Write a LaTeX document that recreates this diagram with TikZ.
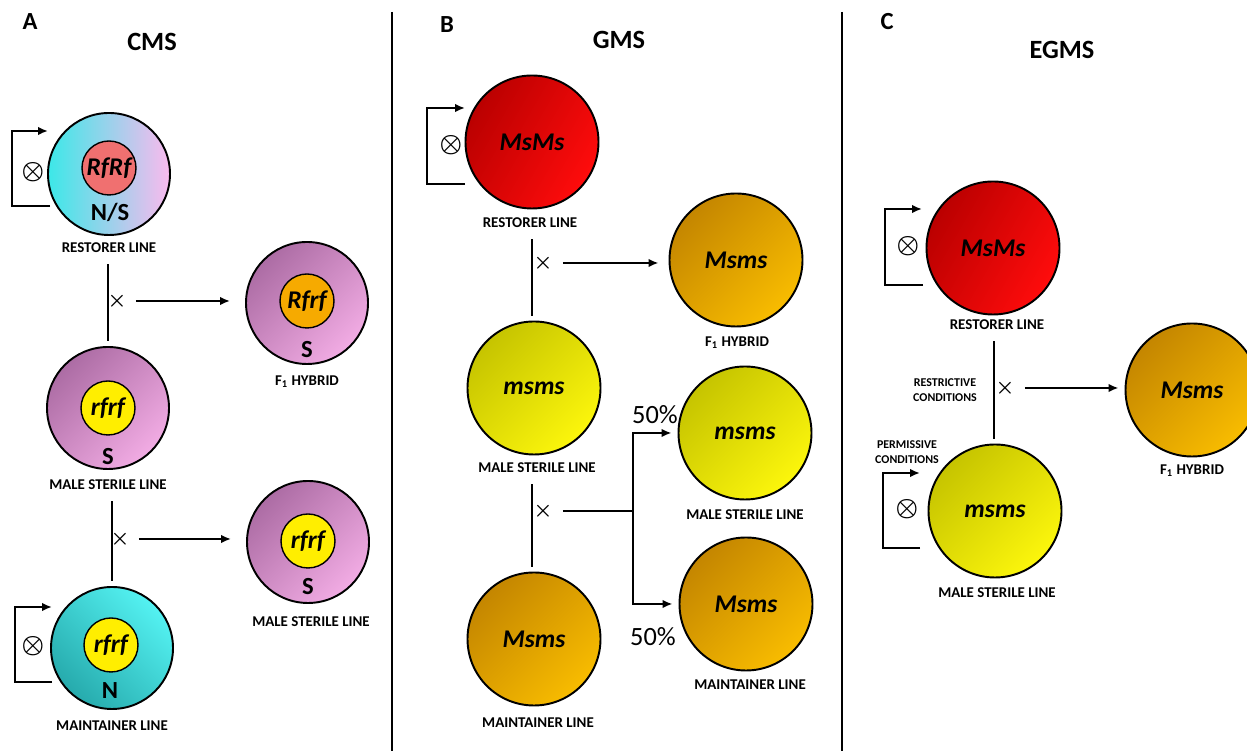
\documentclass[tikz,border=0pt]{standalone}
\usepackage{fontspec}
\setmainfont{Carlito}
\usetikzlibrary{arrows.meta}

\definecolor{cyanA}{RGB}{60,232,232}
\definecolor{pinkA}{RGB}{250,186,238}
\definecolor{mauveD}{RGB}{172,108,164}
\definecolor{mauveL}{RGB}{242,172,228}
\definecolor{tealD}{RGB}{38,170,172}
\definecolor{tealL}{RGB}{84,242,242}
\definecolor{salmonC}{RGB}{240,112,112}
\definecolor{orangeC}{RGB}{246,170,0}
\definecolor{yellowC}{RGB}{255,238,0}
\definecolor{redD}{RGB}{186,0,0}
\definecolor{redL}{RGB}{255,12,12}
\definecolor{ochreD}{RGB}{196,134,0}
\definecolor{ochreL}{RGB}{248,188,0}
\definecolor{limeD}{RGB}{198,196,0}
\definecolor{limeL}{RGB}{252,246,12}

\tikzset{
	cellA/.style={circle, draw, line width=1.1pt, minimum size=2.44cm, inner sep=0pt},
	coreA/.style={circle, draw, line width=0.8pt, minimum size=1.08cm, inner sep=0pt,
		font=\bfseries\itshape\fontsize{14.5}{15}\selectfont},
	cellB/.style={circle, draw, line width=1.1pt, minimum size=2.66cm, inner sep=0pt,
		font=\bfseries\itshape\fontsize{14.5}{15}\selectfont},
	cyto/.style={font=\bfseries\fontsize{14}{14}\selectfont},
	linename/.style={font=\bfseries\fontsize{8.5}{9}\selectfont},
	condname/.style={font=\bfseries\fontsize{6.8}{8.4}\selectfont, align=center},
	panel/.style={font=\bfseries\fontsize{14}{14}\selectfont},
	heading/.style={font=\bfseries\fontsize{15}{15}\selectfont},
	crossmark/.style={inner sep=0pt, font=\boldmath\fontsize{13}{13}\selectfont},
	selfmark/.style={inner sep=0pt, font=\boldmath\fontsize{13.5}{14}\selectfont},
	half/.style={font=\fontsize{15}{15}\selectfont},
	crossline/.style={line width=1.1pt, shorten <=0.1cm, shorten >=0.1cm},
	toarrow/.style={line width=1.1pt, -{Latex[length=2mm,width=1.7mm]}},
	selfloop/.style={line width=1.1pt, -{Latex[length=2mm,width=1.7mm]}}
}

\begin{document}
\begin{tikzpicture}
	\useasboundingbox (0,0) rectangle (24.94,15.02);
	\clip (0,0) rectangle (24.94,15.02);
	% Trennlinien
	\draw[
		line width=1.1pt
	] (7.84,14.78) -- (7.84,0);
	\draw[
		line width=1.1pt
	] (16.84,14.78) -- (16.84,0);
	% Ueberschriften
	\node[panel] (tagA) at (0.6,14.58) {A};
	\node[heading] (headA) at (3.04,14.18) {CMS};
	\node[panel] (tagB) at (8.94,14.52) {B};
	\node[heading] (headB) at (12.38,14.22) {GMS};
	\node[panel] (tagC) at (17.74,14.58) {C};
	\node[heading] (headC) at (21.24,14.02) {EGMS};

	% A: Restorer
	\node[
		cellA,
		left color=cyanA,
		right color=pinkA
	] (restA) at (2.18,11.54) {};
	\node[coreA, fill=salmonC] (restAcore) at (2.18,11.66) {RfRf};
	\node[cyto] (restAcyto) at (2.2,10.78) {N/S};
	\node[linename] (restAname) at (2.18,10.06) {RESTORER LINE};
	\draw[selfloop] (restA.center) ++(-1.18,-0.64) -- ++(-0.76,0) -- ++(0,1.5) -- ++(0.72,0);
	\node[selfmark] (restAself) at (0.66,11.58) {$\otimes$};
	% A: F1
	\node[
		cellA,
		top color=mauveD,
		bottom color=mauveL,
		shading angle=45
	] (hybA) at (6.14,8.96) {};
	\node[coreA, fill=orangeC] (hybAcore) at (6.14,9.0) {Rfrf};
	\node[cyto] (hybAcyto) at (6.14,8.02) {S};
	\node[linename] (hybAname) at (6.14,7.38) {F\textsubscript{1} HYBRID};
	% A: male sterile
	\node[
		cellA,
		top color=mauveD,
		bottom color=mauveL,
		shading angle=45
	] (msA) at (2.16,6.86) {};
	\node[coreA, fill=yellowC] (msAcore) at (2.16,6.86) {rfrf};
	\node[cyto] (msAcyto) at (2.16,5.88) {S};
	\node[linename] (msAname) at (2.16,5.32) {MALE STERILE LINE};
	% A: male sterile (Nachkommen)
	\node[
		cellA,
		top color=mauveD,
		bottom color=mauveL,
		shading angle=45
	] (msA2) at (6.16,4.18) {};
	\node[coreA, fill=yellowC] (msA2core) at (6.16,4.2) {rfrf};
	\node[cyto] (msA2cyto) at (6.16,3.28) {S};
	\node[linename] (msA2name) at (6.22,2.58) {MALE STERILE LINE};
	% A: maintainer
	\node[
		cellA,
		top color=tealL,
		bottom color=tealD,
		shading angle=-45
	] (mainA) at (2.24,2.06) {};
	\node[coreA, fill=yellowC] (mainAcore) at (2.22,2.12) {rfrf};
	\node[cyto] (mainAcyto) at (2.2,1.2) {N};
	\node[linename] (mainAname) at (2.24,0.5) {MAINTAINER LINE};
	\draw[selfloop] (mainA.center) ++(-1.2,-0.68) -- ++(-0.74,0) -- ++(0,1.5) -- ++(0.74,0);
	\node[selfmark] (mainAself) at (0.66,2.1) {$\otimes$};
	% A: Kreuzungen
	\draw[crossline] (msA.north |- restAname.south) -- (msA.north);
	\node[crossmark] (crossA1) at (2.34,9.0) {$\times$};
	\draw[toarrow, shorten <=0.18cm, shorten >=0.3cm] (crossA1.east) -- (crossA1.east -| hybA.west);
	\draw[crossline] (mainA.north |- msAname.south) -- (mainA.north);
	\node[crossmark] (crossA2) at (2.4,4.24) {$\times$};
	\draw[toarrow, shorten <=0.18cm, shorten >=0.3cm] (crossA2.east) -- (crossA2.east -| msA2.west);

	% B: Restorer
	\node[
		cellB,
		top color=redD,
		bottom color=redL,
		shading angle=60
	] (restB) at (10.64,12.18) {MsMs};
	\node[linename] (restBname) at (10.6,10.56) {RESTORER LINE};
	\draw[selfloop] (restB.center) ++(-1.34,-0.84) -- ++(-0.76,0) -- ++(0,1.52) -- ++(0.76,0);
	\node[selfmark] (restBself) at (9.02,12.12) {$\otimes$};
	% B: F1
	\node[
		cellB,
		top color=ochreD,
		bottom color=ochreL,
		shading angle=45
	] (hybB) at (14.72,9.82) {Msms};
	\node[linename] (hybBname) at (14.74,8.16) {F\textsubscript{1} HYBRID};
	% B: male sterile
	\node[
		cellB,
		top color=limeD,
		bottom color=limeL,
		shading angle=45
	] (msB) at (10.68,7.26) {msms};
	\node[linename] (msBname) at (10.74,5.66) {MALE STERILE LINE};
	% B: maintainer
	\node[
		cellB,
		top color=ochreD,
		bottom color=ochreL,
		shading angle=45
	] (mainB) at (10.68,2.24) {Msms};
	\node[linename] (mainBname) at (10.76,0.56) {MAINTAINER LINE};
	% B: Nachkommen
	\node[
		cellB,
		top color=limeD,
		bottom color=limeL,
		shading angle=45
	] (msB2) at (14.9,6.36) {msms};
	\node[linename] (msB2name) at (14.9,4.72) {MALE STERILE LINE};
	\node[
		cellB,
		top color=ochreD,
		bottom color=ochreL,
		shading angle=45
	] (mainB2) at (14.92,2.94) {Msms};
	\node[linename] (mainB2name) at (15.0,1.32) {MAINTAINER LINE};
	% B: Kreuzungen
	\draw[crossline] (10.64,0 |- restBname.south) -- (10.64,0 |- msB.north);
	\node[crossmark] (crossB1) at (10.86,9.76) {$\times$};
	\draw[toarrow, shorten <=0.2cm, shorten >=0.2cm] (crossB1.east) -- (crossB1.east -| hybB.west);
	\draw[crossline] (10.64,0 |- msBname.south) -- (10.64,0 |- mainB.north);
	\node[crossmark] (crossB2) at (10.86,4.8) {$\times$};
	\coordinate (split) at (12.66,4.8);
	\draw[line width=1.1pt, shorten <=0.2cm] (crossB2.east) -- (split);
	\draw[toarrow, shorten >=0.12cm] (split) |- (msB2.west);
	\draw[toarrow, shorten >=0.12cm] (split) |- (mainB2.west);
	\node[half] (halfup) at (13.1,6.72) {50\%};
	\node[half] (halfdown) at (13.06,2.28) {50\%};

	% C: Restorer
	\node[
		cellB,
		top color=redD,
		bottom color=redL,
		shading angle=60
	] (restC) at (19.86,10.06) {MsMs};
	\node[linename] (restCname) at (19.94,8.52) {RESTORER LINE};
	\draw[selfloop] (restC.center) ++(-1.4,-0.74) -- ++(-0.76,0) -- ++(0,1.52) -- ++(0.74,0);
	\node[selfmark] (restCself) at (18.16,10.1) {$\otimes$};
	% C: F1
	\node[
		cellB,
		top color=ochreD,
		bottom color=ochreL,
		shading angle=45
	] (hybC) at (23.84,7.22) {Msms};
	\node[linename] (hybCname) at (23.84,5.6) {F\textsubscript{1} HYBRID};
	% C: male sterile
	\node[
		cellB,
		top color=limeD,
		bottom color=limeL,
		shading angle=45
	] (msC) at (19.9,4.8) {msms};
	\node[linename] (msCname) at (19.94,3.16) {MALE STERILE LINE};
	\draw[selfloop] (msC.center) ++(-1.5,-0.74) -- ++(-0.74,0) -- ++(0,1.5) -- ++(0.74,0);
	\node[selfmark] (msCself) at (18.14,4.84) {$\otimes$};
	\node[condname] (permC) at (18.14,5.98) {PERMISSIVE\\CONDITIONS};
	% C: Kreuzung
	\draw[crossline] (19.88,0 |- restCname.south) -- (19.88,0 |- msC.north);
	\node[condname, anchor=east] (restrC) at (19.66,7.22) {RESTRICTIVE\\CONDITIONS};
	\node[crossmark] (crossC) at (20.1,7.26) {$\times$};
	\draw[toarrow, shorten <=0.2cm, shorten >=0.12cm] (crossC.east) -- (crossC.east -| hybC.west);
\end{tikzpicture}
\end{document}
